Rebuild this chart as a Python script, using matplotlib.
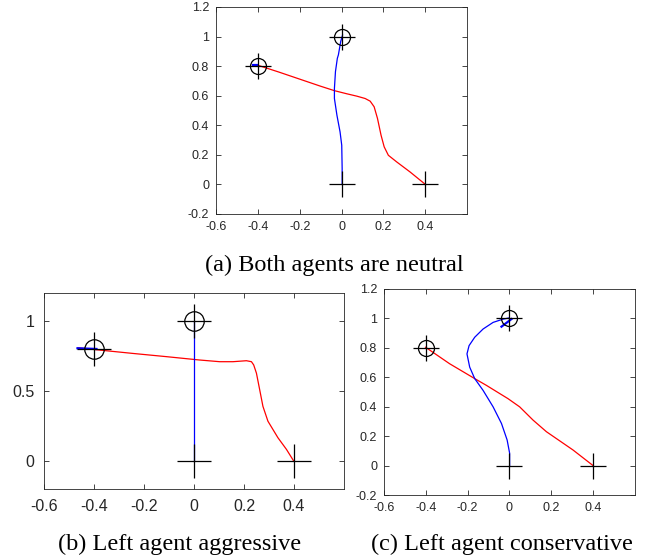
import matplotlib.pyplot as plt

# (a) both agents neutral
a_red_x = [0.401, 0.328, 0.264, 0.224, 0.204, 0.189, 0.172, 0.156, 0.137, 0.113, 0.073, 0.025,
           -0.034, -0.102, -0.2, -0.3, -0.405]
a_red_y = [0.0, 0.084, 0.152, 0.197, 0.254, 0.333, 0.446, 0.525, 0.563, 0.581, 0.597, 0.613,
           0.634, 0.665, 0.712, 0.760, 0.808]
a_blue_x = [0.003, 0.003, 0.001, -0.007, -0.022, -0.034, -0.034, -0.029, -0.020, -0.015, -0.004, 0.005]
a_blue_y = [0.0, 0.107, 0.265, 0.355, 0.468, 0.581, 0.649, 0.763, 0.853, 0.876, 0.966, 1.01]
a_head_x = [-0.425, -0.405]
a_head_y = [0.81, 0.81]

# (b) left agent aggressive
b_red_x = [0.399, 0.370, 0.336, 0.296, 0.276, 0.263, 0.250, 0.239, 0.230, 0.210, 0.156, 0.103,
           0.023, -0.110, -0.244, -0.377, -0.464]
b_red_y = [0.0, 0.083, 0.166, 0.284, 0.39, 0.509, 0.627, 0.686, 0.709, 0.716, 0.709, 0.709,
           0.721, 0.745, 0.768, 0.792, 0.808]
b_blue_x = [0.0, 0.0, 0.0]
b_blue_y = [0.0, 0.5, 1.0]
b_head_x = [-0.466, -0.39]
b_head_y = [0.805, 0.80]

# (c) left agent conservative
c_red_x = [0.4, 0.304, 0.177, 0.113, 0.049, -0.007, -0.046, -0.110, -0.166, -0.286, -0.401]
c_red_y = [0.0, 0.106, 0.230, 0.309, 0.399, 0.455, 0.489, 0.545, 0.591, 0.692, 0.804]
c_blue_x = [0.001, 0.001, -0.011, -0.038, -0.078, -0.126, -0.166, -0.190, -0.203, -0.193, -0.166,
            -0.126, -0.078, -0.031, -0.002]
c_blue_y = [0.0, 0.084, 0.174, 0.286, 0.399, 0.511, 0.591, 0.669, 0.759, 0.815, 0.872,
            0.928, 0.973, 0.995, 1.003]
c_head_x = [-0.038, 0.01]
c_head_y = [0.944, 0.996]

starts_x = [0.0, 0.4]
starts_y = [0.0, 0.0]
goals_x = [-0.4, 0.0]
goals_y = [0.8, 1.0]

captions = ["(a) Both agents are neutral", "(b) Left agent aggressive", "(c) Left agent conservative"]

fig = plt.figure(figsize=(6.45, 5.58), dpi=100)
ax_a = fig.add_axes([0.335, 0.6165, 0.389, 0.371])
ax_b = fig.add_axes([0.0682, 0.1237, 0.465, 0.3513])
ax_c = fig.add_axes([0.5953, 0.1129, 0.389, 0.3692])


def draw(ax, rx, ry, bx, by, hx, hy, plus, circ, fs, pad, yticks, ylabels):
    ax.plot(rx, ry, color="red", lw=0.9)
    ax.plot(bx, by, color="blue", lw=0.9)
    ax.plot(hx, hy, color="blue", lw=1.6)
    ax.plot(starts_x, starts_y, "+", color="black", ms=plus, mew=0.9, ls="none")
    ax.plot(goals_x, goals_y, "+", color="black", ms=plus, mew=0.9, ls="none")
    ax.plot(goals_x, goals_y, "o", mfc="none", mec="black", ms=circ, mew=0.9, ls="none")
    ax.set_xlim(-0.6, 0.6)
    ax.set_ylim(-0.2, 1.2)
    ax.set_xticks([-0.6, -0.4, -0.2, 0, 0.2, 0.4])
    ax.set_xticklabels(["-0.6", "-0.4", "-0.2", "0", "0.2", "0.4"])
    ax.set_yticks(yticks)
    ax.set_yticklabels(ylabels)
    ax.tick_params(direction="in", top=True, right=True, length=3.5, width=0.6,
                   labelsize=fs, colors="#262626", pad=pad)
    for lab in ax.get_xticklabels() + ax.get_yticklabels():
        lab.set_family("Liberation Sans")
    for s in ax.spines.values():
        s.set_color("#262626")
        s.set_linewidth(0.6)


ab_ticks = [-0.2, 0, 0.2, 0.4, 0.6, 0.8, 1.0, 1.2]
ab_labels = ["-0.2", "0", "0.2", "0.4", "0.6", "0.8", "1", "1.2"]

draw(ax_a, a_red_x, a_red_y, a_blue_x, a_blue_y, a_head_x, a_head_y,
     19, 11.5, 9, 5, ab_ticks, ab_labels)
draw(ax_b, b_red_x, b_red_y, b_blue_x, b_blue_y, b_head_x, b_head_y,
     24, 14, 11.5, 7, [0, 0.5, 1], ["0", "0.5", "1"])
draw(ax_c, c_red_x, c_red_y, c_blue_x, c_blue_y, c_head_x, c_head_y,
     19, 11.5, 9, 5, ab_ticks, ab_labels)

cap_font = dict(family="Liberation Serif", fontsize=17.5, ha="center", va="center")
fig.text(0.518, 0.525, captions[0], **cap_font)
fig.text(0.279, 0.025, captions[1], **cap_font)
fig.text(0.778, 0.025, captions[2], **cap_font)

fig.savefig("out.png", dpi=100)
